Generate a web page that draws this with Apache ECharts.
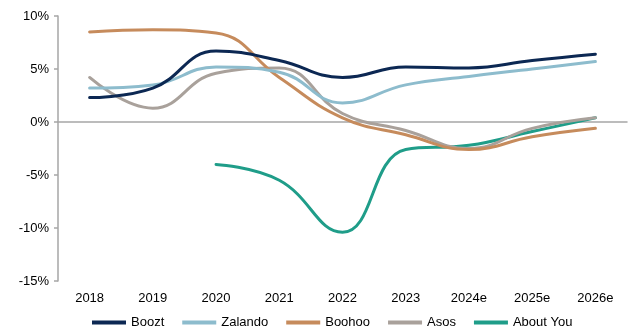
<!DOCTYPE html>
<html>
<head>
<meta charset="utf-8">
<script src="https://cdn.jsdelivr.net/npm/echarts@6/dist/echarts.min.js"></script>
<style>
  html, body { margin: 0; padding: 0; background: #fff; }
  #chart { width: 633px; height: 334px; }
</style>
</head>
<body>
<div id="chart"></div>
<script>
// categories (years, e = estimate)
const years = ['2018', '2019', '2020', '2021', '2022', '2023', '2024e', '2025e', '2026e']
// margin, %
const boozt   = [2.3, 3.2, 6.7, 5.8, 4.2, 5.2, 5.1, 5.8, 6.4]
const zalando = [3.2, 3.5, 5.2, 4.7, 1.8, 3.5, 4.3, 5.0, 5.7]
const boohoo  = [8.5, 8.7, 8.4, 4.2, 0.4, -1.2, -2.6, -1.4, -0.6]
const asos    = [4.2, 1.3, 4.6, 5.1, 0.8, -0.8, -2.5, -0.6, 0.4]
const aboutYou = [null, null, -4.0, -5.5, -10.4, -2.6, -2.2, -0.9, 0.4]
const yTicks = { min: -15, max: 10, step: 5 }

const colors = ['#0c2853', '#8dbccd', '#c68b5c', '#a9a19b', '#1f9d89']
const names = ['Boozt', 'Zalando', 'Boohoo', 'Asos', 'About You']
const dataList = [boozt, zalando, boohoo, asos, aboutYou]

const chart = echarts.init(document.getElementById('chart'))
const font = 'Liberation Sans, Arial, sans-serif'

const series = names.map((n, i) => ({
  name: n,
  type: 'line',
  data: dataList[i],
  smooth: 0.45,
  showSymbol: false,
  symbol: 'none',
  lineStyle: { width: 3, color: colors[i], cap: 'round' },
  itemStyle: { color: colors[i] },
  z: 10 - i
}))

chart.setOption({
  animation: false,
  grid: { left: 58, right: 6, top: 16, bottom: 53 },
  legend: {
    bottom: 0,
    left: 87,
    icon: 'rect',
    itemWidth: 34,
    itemHeight: 4,
    itemGap: 18,
    textStyle: { fontFamily: font, fontSize: 13, color: '#000' },
    data: names
  },
  xAxis: [
    {
      type: 'category',
      data: years,
      position: 'bottom',
      axisLine: { show: false, onZero: false },
      axisTick: { show: false },
      axisLabel: { fontFamily: font, fontSize: 13, color: '#000', margin: 11 }
    },
    {
      type: 'category',
      data: years,
      position: 'top',
      axisLine: { onZero: true, lineStyle: { color: '#a6a6a6', width: 1.5 } },
      axisTick: { inside: true, length: 5, lineStyle: { color: '#a6a6a6', width: 1.5 } },
      axisLabel: { show: false }
    }
  ],
  yAxis: {
    type: 'value',
    min: yTicks.min,
    max: yTicks.max,
    interval: yTicks.step,
    axisLine: { show: true, onZero: false, lineStyle: { color: '#a6a6a6', width: 1.5 } },
    axisTick: { show: true, length: 4, lineStyle: { color: '#a6a6a6', width: 1.5 } },
    splitLine: { show: false },
    axisLabel: { fontFamily: font, fontSize: 13, color: '#000', margin: 9, formatter: v => v + '%' }
  },
  series
})
</script>
</body>
</html>
